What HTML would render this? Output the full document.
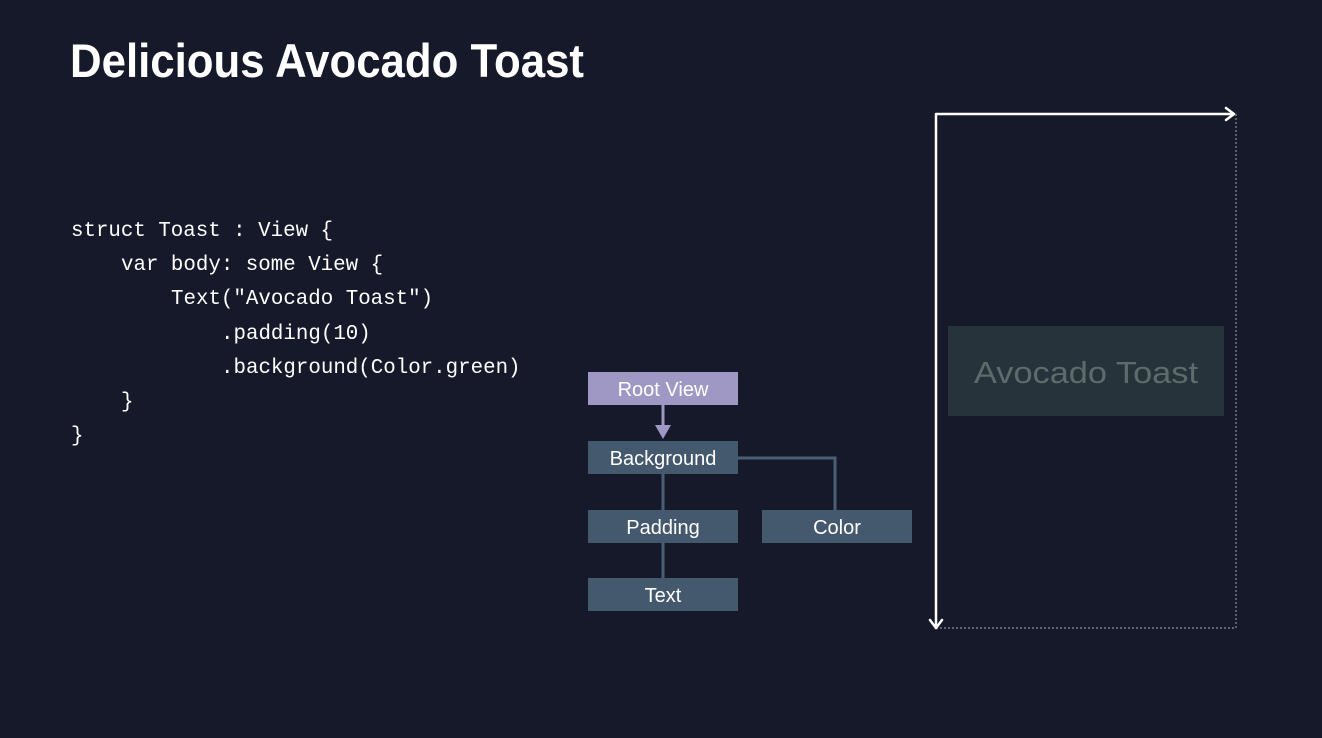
<!DOCTYPE html>
<html><head><meta charset="utf-8"><style>
html,body{margin:0;padding:0;background:#15192a;}
svg{display:block}
</style></head><body>
<svg width="1322" height="738" viewBox="0 0 1322 738" xmlns="http://www.w3.org/2000/svg">
<rect width="1322" height="738" fill="#15192a"/>
<text x="70" y="77" font-family="Liberation Sans, sans-serif" font-weight="bold" font-size="47" fill="#ffffff" textLength="514" lengthAdjust="spacingAndGlyphs">Delicious Avocado Toast</text>
<g font-family="Liberation Mono, monospace" font-size="20.8" fill="#ffffff">
<text x="71" y="236" textLength="262" lengthAdjust="spacingAndGlyphs">struct Toast : View {</text>
<text x="121" y="270">var body: some View {</text>
<text x="171" y="304">Text("Avocado Toast")</text>
<text x="221" y="339">.padding(10)</text>
<text x="221" y="373">.background(Color.green)</text>
<text x="121" y="407">}</text>
<text x="71" y="441">}</text>
</g>
<g stroke="#4a5f75" stroke-width="3" fill="none">
<line x1="663" y1="474" x2="663" y2="510"/>
<line x1="663" y1="543" x2="663" y2="578"/>
<polyline points="738,458 835,458 835,510"/>
</g>
<line x1="663" y1="405" x2="663" y2="426" stroke="#a098c4" stroke-width="3"/>
<polygon points="655,425 671,425 663,439" fill="#a098c4"/>
<g font-family="Liberation Sans, sans-serif" font-size="20" fill="#ffffff" text-anchor="middle">
<rect x="588" y="372" width="150" height="33" fill="#a098c4"/>
<text x="663" y="396">Root View</text>
<rect x="588" y="441" width="150" height="33" fill="#44596e"/>
<text x="663" y="465">Background</text>
<rect x="588" y="510" width="150" height="33" fill="#44596e"/>
<text x="663" y="534">Padding</text>
<rect x="762" y="510" width="150" height="33" fill="#44596e"/>
<text x="837" y="534">Color</text>
<rect x="588" y="578" width="150" height="33" fill="#44596e"/>
<text x="663" y="602">Text</text>
</g>
<g stroke="#8a8f9c" stroke-width="1.2" stroke-dasharray="2,2" fill="none">
<line x1="1236" y1="114" x2="1236" y2="628"/>
<line x1="936" y1="628" x2="1236" y2="628"/>
</g>
<g stroke="#ffffff" stroke-width="2.5" fill="none" stroke-linecap="round" stroke-linejoin="round">
<polyline points="936,628 936,114 1234,114"/>
<polyline points="1226,108 1234,114 1226,120"/>
<polyline points="930,620 936,628 942,620"/>
</g>
<rect x="948" y="326" width="276" height="90" fill="#27333a"/>
<text x="1086" y="383" font-family="Liberation Sans, sans-serif" font-size="31" fill="#5f6a6c" text-anchor="middle" textLength="224" lengthAdjust="spacingAndGlyphs">Avocado Toast</text>
</svg>
</body></html>
